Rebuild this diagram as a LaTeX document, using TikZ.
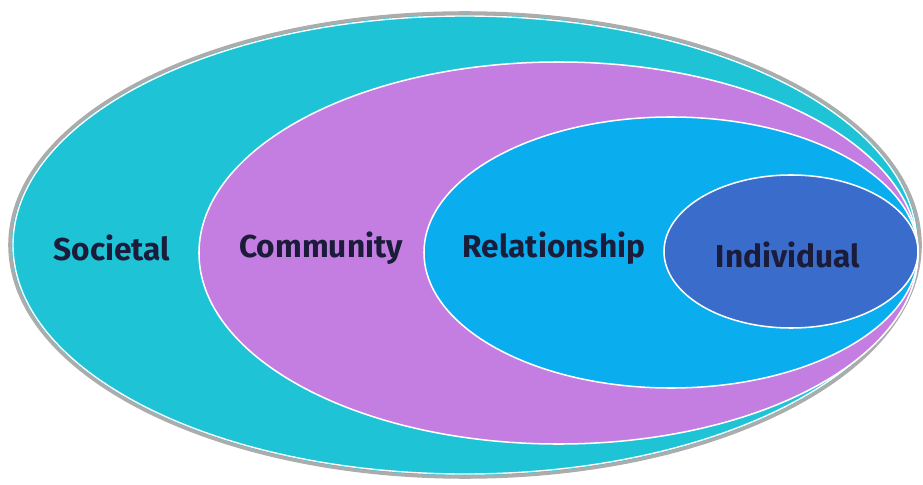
\documentclass[tikz,border=0pt]{standalone}
\usepackage{fontspec}
\setmainfont{Fira Sans}
\usetikzlibrary{shapes.geometric}
\definecolor{societalcol}{HTML}{1FC3D6}
\definecolor{communitycol}{HTML}{C47DE0}
\definecolor{relationcol}{HTML}{0AADEE}
\definecolor{individualcol}{HTML}{3A6DCB}
\definecolor{labelcol}{HTML}{1B1B3A}
\tikzset{
x=0.03cm, y=-0.03cm, % one unit is one pixel of the reference
layer/.style={ellipse, draw=white, line width=1.3pt, inner sep=0pt}, % every ring of the model
level/.style={text=labelcol, font=\bfseries\fontsize{27}{30}\selectfont}, % the ring names
}
\begin{document}
\begin{tikzpicture}
    \useasboundingbox (0,0) rectangle (923,485);

    % rings, outer to inner
    \node[layer, draw=gray!65, line width=3pt, fill=societalcol, minimum width=27.3cm, minimum height=13.92cm] (SOC) at (465,245) {};
    \node[ellipse, draw=white, line width=1.2pt, minimum width=27.12cm, minimum height=13.74cm] (SOCin) at (SOC.center) {};
    \node[layer, fill=communitycol, minimum width=21.57cm, minimum height=11.46cm] (COM) at (558.5,253) {};
    \node[layer, fill=relationcol, minimum width=14.82cm, minimum height=8.13cm] (REL) at (671,252.5) {};
    \node[layer, fill=individualcol, minimum width=7.62cm, minimum height=4.59cm] (IND) at (791,251.5) {};

    % names
    \node[level] (socname) at (112,248) {Societal};
    \node[level] (comname) at (321,248) {Community};
    \node[level] (relname) at (554,248) {Relationship};
    \node[level] (indname) at (788,255) {Individual};
\end{tikzpicture}
\end{document}
